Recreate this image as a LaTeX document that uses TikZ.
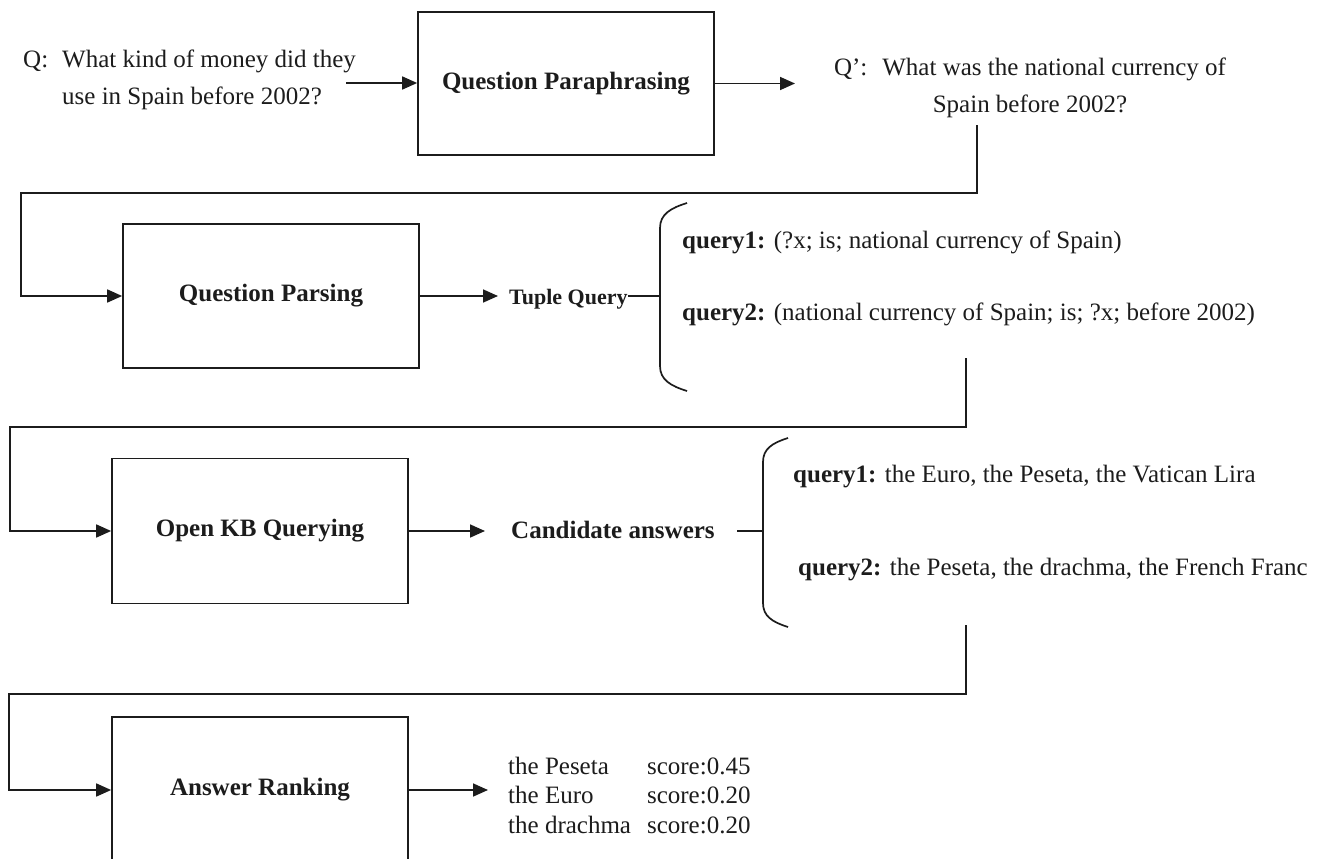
\documentclass[tikz,border=0pt]{standalone}
\usepackage{fontspec}
\setmainfont{Liberation Serif}
\usetikzlibrary{arrows.meta}
\definecolor{ink}{RGB}{28,28,28}
\begin{document}
\begin{tikzpicture}[x=1pt,y=-1pt,
  every node/.style={text=ink},
  stage/.style={draw=ink, line width=1.7pt, minimum width=296pt, minimum height=143pt,
                inner sep=0pt, font=\fontsize{25}{30}\selectfont\bfseries},
  txt/.style={inner sep=0pt, font=\fontsize{25}{30}\selectfont},
  tag/.style={inner sep=0pt, font=\fontsize{25}{30}\selectfont\bfseries},
  flow/.style={draw=ink, line width=1.7pt, -{Triangle[length=15pt,width=13pt]}},
  wire/.style={draw=ink, line width=1.7pt},
]
\useasboundingbox (0,0) rectangle (1325,859);
\clip (0,0) rectangle (1325,859);

% processing stages
\node[stage] (para) at (566,83.5) {Question Paraphrasing};
\node[stage, minimum height=144pt] (parse) at (271,296) {Question Parsing};
\node[stage, minimum height=145pt] (kb) at (260,531) {Open KB Querying};
\node[stage, minimum height=146pt] (rank) at (260,790) {Answer Ranking};

% input question
\node[txt, anchor=base west] (q) at (23,67)
  {\fontsize{25}{37}\selectfont\begin{tabular}[t]{@{}l@{\hspace{14pt}}l@{}}
   Q: & What kind of money did they\\
      & use in Spain before 2002?\end{tabular}};
\coordinate (qout) at (346,83);
\draw[flow] (qout) -- (para.west |- qout);

% paraphrased question
\node[txt, anchor=base] (qp) at (1030,75)
  {\fontsize{25}{37}\selectfont\begin{tabular}[t]{@{}c@{}}
   Q’:\hspace{15pt}What was the national currency of\\
   Spain before 2002?\end{tabular}};
\coordinate (qpin) at (795,83.5);
\draw[flow] (para.east) -- (qpin);
\coordinate (qpout) at (977,125);
\draw[flow] (qpout) -- (977,193) -- (21,193) |- (parse.west);

% tuple queries
\node[inner sep=0pt, anchor=base west, font=\fontsize{22}{26}\selectfont\bfseries] (tq) at (509,304) {Tuple Query};
\coordinate (tqin) at (498,296);
\draw[flow] (parse.east) -- (tqin);
\coordinate (b1) at (660,296);
\draw[wire] (tq.east |- b1) -- (b1);
\draw[wire] (687,203) .. controls (671,208) and (660,214) .. (660,228)
  -- (660,366) .. controls (660,380) and (671,386) .. (687,391);
\node[txt, anchor=base west] (tq1) at (682,248) {\textbf{query1:} (?x; is; national currency of Spain)};
\node[txt, anchor=base west] (tq2) at (682,320) {\textbf{query2:} (national currency of Spain; is; ?x; before 2002)};
\coordinate (tout) at (966,358);
\draw[flow] (tout) -- (966,427) -- (10,427) |- (kb.west);

% candidate answers
\node[tag, anchor=base west] (ca) at (511,538) {Candidate answers};
\coordinate (cain) at (485,531);
\draw[flow] (kb.east) -- (cain);
\coordinate (b2) at (763,531);
\draw[wire] (737,531) -- (b2);
\draw[wire] (788,438) .. controls (772,443) and (763,449) .. (763,462)
  -- (763,603) .. controls (763,616) and (772,622) .. (788,627);
\node[txt, anchor=base west] (ca1) at (793,482) {\textbf{query1:} the Euro, the Peseta, the Vatican Lira};
\node[txt, anchor=base west] (ca2) at (798,575) {\textbf{query2:} the Peseta, the drachma, the French Franc};
\coordinate (cout) at (966,625);
\draw[flow] (cout) -- (966,694) -- (9,694) |- (rank.west);

% ranked answers
\coordinate (resin) at (488,790);
\draw[flow] (rank.east) -- (resin);
\node[txt, anchor=base west] (res) at (508,774)
  {\fontsize{25}{29.5}\selectfont\begin{tabular}[t]{@{}l@{\hspace{16pt}}l@{}}
   the Peseta & score:0.45\\
   the Euro & score:0.20\\
   the drachma & score:0.20\end{tabular}};
\end{tikzpicture}
\end{document}
